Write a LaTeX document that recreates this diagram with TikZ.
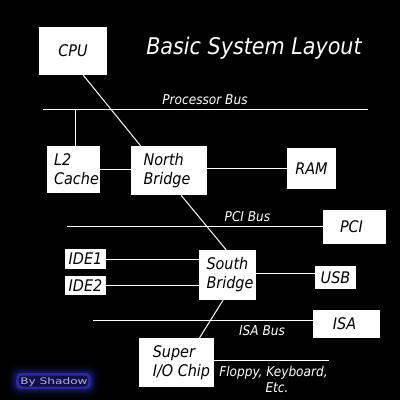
\documentclass[tikz,border=0pt]{standalone}
\usepackage{fontspec}
\usepackage{graphicx}
\newfontfamily\djc{DejaVu Sans Condensed}
\newfontfamily\wmfont{DejaVu Sans}
\definecolor{wmblue}{RGB}{40,40,160}
\definecolor{wmdark}{RGB}{15,15,70}
\definecolor{wmtext}{RGB}{175,175,225}
\tikzset{
  box/.style={fill=white, draw=none, inner sep=0pt, text=black, align=left,
    font=\djc\itshape\fontsize{16}{19}\selectfont},
  lbl/.style={text=white, inner sep=0pt, anchor=base,
    font=\djc\itshape\fontsize{13.5}{16}\selectfont},
  wire/.style={draw=white, line width=1pt}
}
\begin{document}
\begin{tikzpicture}[x=1pt,y=-1pt]
\useasboundingbox (0,0) rectangle (400,400);
\fill[black] (0,0) rectangle (400,400);

% boxes
\node[box, minimum width=68, minimum height=48] (cpu) at (73,51) {CPU};
\node[box, minimum width=53, minimum height=47] (l2) at (73.5,169.5) {\hspace*{6pt}L2\\\hspace*{6pt}Cache};
\node[box, minimum width=76, minimum height=49] (nb) at (169,170.5) {North\\Bridge\hspace*{4pt}};
\node[box, minimum width=49, minimum height=41] (ram) at (311.5,168.5) {RAM};
\node[box, minimum width=63, minimum height=34] (pci) at (354.5,227) {PCI\hspace*{6pt}};
\node[box, minimum width=57, minimum height=50] (sb) at (227.5,275) {\hspace*{5pt}South\\\hspace*{5pt}Bridge};
\node[box, minimum width=41, minimum height=20] (ide1) at (85.5,259) {IDE1};
\node[box, minimum width=41, minimum height=19] (ide2) at (85.5,285.5) {IDE2};
\node[box, minimum width=41, minimum height=23] (usb) at (335.5,277.5) {USB};
\node[box, minimum width=67, minimum height=28] (isa) at (346.5,324) {ISA\hspace*{4pt}};
\node[box, minimum width=75, minimum height=49] (sio) at (176.5,362.5) {\hspace*{10pt}Super\\\hspace*{10pt}I/O Chip};

% title and labels
\node[text=white, inner sep=0pt, anchor=base, font=\djc\itshape\fontsize{23}{27}\selectfont] (title) at (254,54) {Basic System Layout};
\node[lbl] (pbl) at (205,104) {Processor Bus};
\node[lbl] (pcibl) at (247.5,221) {PCI Bus};
\node[lbl] (isabl) at (262,335) {ISA Bus};
\node[lbl] (fl1) at (273.5,376) {Floppy, Keyboard,};
\node[lbl] (fl2) at (277,392) {Etc.};

% bus end points
\coordinate (pb1) at (43,109);
\coordinate (pb2) at (368,109);
\coordinate (pcil) at (67,226);
\coordinate (isal) at (93,320);
\coordinate (flr) at (329,360);

% wires
\draw[wire] (pb1) -- (pb2);
\draw[wire] (l2.85) -- (l2.85 |- pb1);
\draw[wire] (cpu.-67) -- (nb.139);
\draw[wire] (l2.east) -- (l2.east -| nb.west);
\draw[wire] (nb.east |- ram.west) -- (ram.west);
\draw[wire] (pcil) -- (pcil -| pci.west);
\draw[wire] (nb.-64) -- (sb.93);
\draw[wire] (ide1.east) -- (ide1.east -| sb.west);
\draw[wire] (ide2.east) -- (ide2.east -| sb.west);
\draw[wire] (usb.170) -- (usb.170 -| sb.east);
\draw[wire] (isal) -- (isal -| isa.west);
\draw[wire] (sb.-100) -- (sio.47);
\draw[wire] (sio.east |- flr) -- (flr);

% watermark
\foreach \w/\o in {14/0.06, 10/0.1, 6/0.16, 3/0.28} {
  \fill[wmblue, opacity=\o, rounded corners=8pt] (15-\w/2,372-\w/2) rectangle (92+\w/2,390+\w/2);
}
\fill[wmblue, rounded corners=5pt] (16,373) rectangle (91,389);
\fill[wmdark, rounded corners=4pt] (19,375.5) rectangle (88,386.5);
\node[text=wmtext, inner sep=0pt, anchor=base, font=\wmfont\fontsize{9}{10}\selectfont] (wm) at (54,384) {\scalebox{1.35}[1]{By Shadow}};
\end{tikzpicture}
\end{document}
